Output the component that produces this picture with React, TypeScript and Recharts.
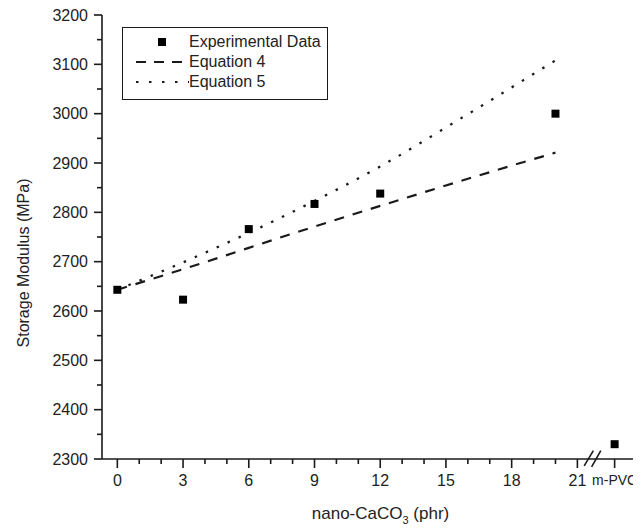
import {
  ComposedChart,
  Line,
  Scatter,
  XAxis,
  YAxis,
  Legend,
  ReferenceLine,
  ReferenceArea
} from 'recharts';

// model curves, read at a few loadings (phr)
const modelLoadings = [0, 4, 8, 12, 16, 20];
const equation4 = [2643, 2699, 2757, 2813, 2868, 2921];
const equation5 = [2643, 2718, 2801, 2893, 2999, 3108];

// measured storage modulus; the last one is the m-PVC reference, placed after the break
const expLoadings = [0, 3, 6, 9, 12, 20, 22.7];
const expModulus = [2643, 2623, 2766, 2817, 2838, 3000, 2330];

const xTicks = [0, 1, 2, 3, 4, 5, 6, 7, 8, 9, 10, 11, 12, 13, 14, 15, 16, 17, 18, 19, 20, 21, 22.7];
const xMajor = [0, 3, 6, 9, 12, 15, 18, 21];
const MPVC = 22.7;

const yTicks = [
  2300, 2350, 2400, 2450, 2500, 2550, 2600, 2650, 2700, 2750,
  2800, 2850, 2900, 2950, 3000, 3050, 3100, 3150, 3200
];

// axis break "//" between 21 and m-PVC
const breakSlashes = [
  [{ x: 21.31, y: 2286 }, { x: 21.73, y: 2317 }],
  [{ x: 21.65, y: 2284 }, { x: 22.07, y: 2317 }]
];
const breakGap = [21.53, 21.85];

const INK = '#1a1a1a';
const TEXT = '#222';
const FONT = '"Liberation Sans", Arial, sans-serif';

const X_TICK_SIZE = 6;
const X_TICK_MARGIN = 10;
const Y_TICK_SIZE = 8;
const Y_TICK_MARGIN = 6;

const eq4Data = modelLoadings.map((x, i) => ({ x, y: equation4[i] }));
const eq5Data = modelLoadings.map((x, i) => ({ x, y: equation5[i] }));
const expData = expLoadings.map((x, i) => ({ x, y: expModulus[i] }));

const XTick = (props: any) => {
  const { x, y, payload } = props;
  const v = payload.value;
  const axisY = y - X_TICK_SIZE - X_TICK_MARGIN;
  const major = xMajor.includes(v) || v === MPVC;
  const label = v === MPVC ? 'm-PVC' : major ? String(v) : '';
  return (
    <g>
      <rect x={x - 0.8} y={axisY} width={1.6} height={major ? 9 : 5} fill={INK} />
      {label && (
        <text
          x={x}
          y={y}
          dy="0.71em"
          textAnchor="middle"
          fontSize={v === MPVC ? 14 : 16}
          fill={TEXT}
        >
          {label}
        </text>
      )}
    </g>
  );
};

const YTick = (props: any) => {
  const { x, y, payload } = props;
  const v = payload.value;
  const axisX = x + Y_TICK_SIZE + Y_TICK_MARGIN;
  const major = v % 100 === 0;
  return (
    <g>
      <line x1={axisX} x2={axisX - (major ? 8 : 5)} y1={y} y2={y} stroke={INK} strokeWidth={1.6} />
      {major && (
        <text x={x} y={y} dy="0.355em" textAnchor="end" fontSize={16} fill={TEXT}>
          {v}
        </text>
      )}
    </g>
  );
};

const Square = (props: any) => {
  const { cx, cy } = props;
  return <rect x={cx - 4} y={cy - 4} width={8} height={8} fill="#000" />;
};

const LegendBox = () => (
  <div
    style={{
      width: 206,
      height: 73,
      border: `1.5px solid ${INK}`,
      background: '#fff',
      fontSize: 16,
      color: TEXT,
      boxSizing: 'border-box',
      paddingTop: 4
    }}
  >
    <div style={{ display: 'flex', alignItems: 'center', height: 20 }}>
      <svg width={66} height={20}>
        <rect x={35} y={6} width={8} height={8} fill="#000" />
      </svg>
      <span>Experimental Data</span>
    </div>
    <div style={{ display: 'flex', alignItems: 'center', height: 20 }}>
      <svg width={66} height={20}>
        <line x1={13} x2={66} y1={10} y2={10} stroke={INK} strokeWidth={2.2} strokeDasharray="10 8" />
      </svg>
      <span>Equation 4</span>
    </div>
    <div style={{ display: 'flex', alignItems: 'center', height: 20 }}>
      <svg width={66} height={20}>
        <line x1={13} x2={66} y1={10} y2={10} stroke={INK} strokeWidth={2.2} strokeDasharray="2.5 10.5" />
      </svg>
      <span>Equation 5</span>
    </div>
  </div>
);

export default function App() {
  return (
    <div style={{ fontFamily: FONT }}>
      <ComposedChart
        width={633}
        height={523}
        margin={{ top: 7, right: 6, left: 0, bottom: 0 }}
        style={{ fontFamily: FONT }}
      >
        <XAxis
          type="number"
          dataKey="x"
          domain={[-0.7, 23.63]}
          ticks={xTicks}
          interval={0}
          height={72}
          tickSize={X_TICK_SIZE}
          tickMargin={X_TICK_MARGIN}
          tickLine={false}
          tick={<XTick />}
          axisLine={{ stroke: INK, strokeWidth: 1.6 }}
          allowDataOverflow
          label={{
            content: (p: any) => {
              const vb = p.viewBox;
              return (
                <text x={vb.x + vb.width / 2 + 12} y={511} textAnchor="middle" fontSize={17} fill={TEXT}>
                  nano-CaCO
                  <tspan dy={5} fontSize={11}>3</tspan>
                  <tspan dy={-5}> (phr)</tspan>
                </text>
              );
            }
          }}
        />
        <YAxis
          type="number"
          dataKey="y"
          domain={[2300, 3200]}
          ticks={yTicks}
          interval={0}
          width={94}
          tickSize={Y_TICK_SIZE}
          tickMargin={Y_TICK_MARGIN}
          tickLine={false}
          tick={<YTick />}
          axisLine={{ stroke: INK, strokeWidth: 1.6 }}
          allowDataOverflow
          label={{
            content: (p: any) => {
              const vb = p.viewBox;
              const cy = vb.y + vb.height / 2 + 26;
              return (
                <text
                  x={21}
                  y={cy}
                  transform={`rotate(-90, 21, ${cy})`}
                  textAnchor="middle"
                  fontSize={16}
                  fill={TEXT}
                >
                  Storage Modulus (MPa)
                </text>
              );
            }
          }}
        />
        <Line
          data={eq5Data}
          dataKey="y"
          type="monotone"
          stroke={INK}
          strokeWidth={2.3}
          strokeDasharray="2.5 9.5"
          dot={false}
          activeDot={false}
          isAnimationActive={false}
          name="Equation 5"
        />
        <Line
          data={eq4Data}
          dataKey="y"
          type="monotone"
          stroke={INK}
          strokeWidth={2.2}
          strokeDasharray="10 9"
          dot={false}
          activeDot={false}
          isAnimationActive={false}
          name="Equation 4"
        />
        <Scatter
          data={expData}
          dataKey="y"
          shape={<Square />}
          isAnimationActive={false}
          name="Experimental Data"
        />
        <ReferenceArea
          x1={breakGap[0]}
          x2={breakGap[1]}
          y1={2294}
          y2={2306}
          fill="#fff"
          fillOpacity={1}
          stroke="none"
          ifOverflow="visible"
        />
        {breakSlashes.map((seg, i) => (
          <ReferenceLine key={i} segment={seg} stroke={INK} strokeWidth={1.6} ifOverflow="visible" />
        ))}
        <Legend
          layout="vertical"
          align="center"
          verticalAlign="middle"
          wrapperStyle={{ position: 'absolute', left: 114, top: 19, width: 'auto' }}
          content={() => <LegendBox />}
        />
      </ComposedChart>
    </div>
  );
}
